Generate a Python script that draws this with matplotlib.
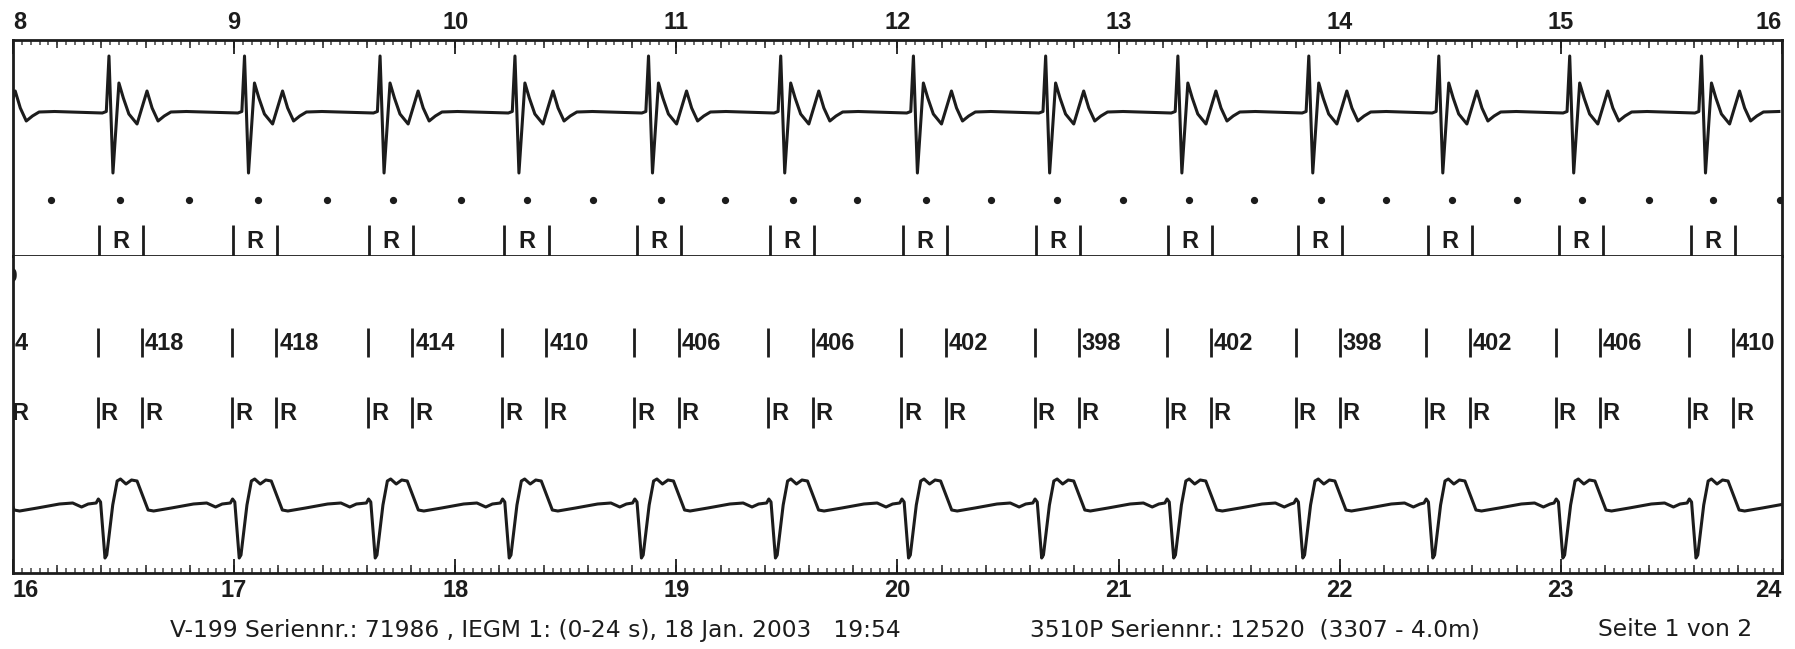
import numpy as np
import matplotlib.pyplot as plt
from matplotlib.ticker import MultipleLocator

# ---------------------------------------------------------------------------
# Recording data (seconds / display units)
# ---------------------------------------------------------------------------

# strip 1: 8-16 s, atrial-style IEGM with marker channel
top_beats = [7.838, 8.434, 9.047, 9.660, 10.270, 10.874, 11.472, 12.072,
             12.670, 13.268, 13.860, 14.448, 15.040, 15.636]
top_sense = [8.389, 8.996, 9.611, 10.222, 10.823, 11.423, 12.023, 12.625,
             13.223, 13.812, 14.398, 14.991, 15.588]
top_dots = [8.174, 8.485, 8.796, 9.107, 9.418, 9.718, 10.024, 10.324,
            10.624, 10.930, 11.220, 11.526, 11.815, 12.127, 12.422, 12.722,
            13.018, 13.318, 13.614, 13.914, 14.209, 14.506, 14.800, 15.097,
            15.398, 15.690, 15.992]

# strip 2: 16-24 s, surface lead with interval annotation
bottom_beats = [15.810, 16.416, 17.023, 17.638, 18.244, 18.842, 19.448,
                20.050, 20.652, 21.249, 21.833, 22.421, 23.009, 23.611]
bottom_sense = [16.384, 16.991, 17.606, 18.212, 18.810, 19.416, 20.018,
                20.620, 21.217, 21.801, 22.389, 22.977, 23.579]
bottom_intervals = [418, 418, 414, 410, 406, 406, 402, 398, 402, 398, 402,
                    406, 410]
carry_sense = 15.780      # last sense of the previous strip
carry_label = "4"
carry_event = "0"

# single-beat shapes: offset from fiducial point (s) and amplitude
top_shape_dt = [-0.030, -0.012, 0.000, 0.018, 0.045, 0.065, 0.090, 0.127,
                0.172, 0.195, 0.222, 0.250, 0.280, 0.350]
top_shape_amp = [-1.0, 0.5, 56.0, -61.0, 29.0, 14.0, -2.0, -12.0, 21.0, 4.0,
                 -9.0, -4.0, 0.0, 0.5]

bottom_shape_dt = [-0.040, -0.030, -0.020, 0.000, 0.008, 0.035, 0.055, 0.070,
                   0.095, 0.120, 0.145, 0.195, 0.220, 0.300, 0.400, 0.460,
                   0.500, 0.530]
bottom_shape_amp = [2.0, 6.0, 3.0, -53.0, -50.0, 0.0, 24.0, 26.0, 21.0, 25.0,
                    24.0, -5.0, -6.0, -3.0, 1.0, 2.0, -2.0, 1.0]

BLANK = 0.2               # marker window width (s)

FOOTER_LEFT = "V-199 Seriennr.: 71986 , IEGM 1: (0-24 s), 18 Jan. 2003   19:54"
FOOTER_MID = "3510P Seriennr.: 12520  (3307 - 4.0m)"
FOOTER_RIGHT = "Seite 1 von 2"

INK = "#1c1c1c"
W, H = 1795, 649

plt.rcParams["font.family"] = ["Liberation Sans", "DejaVu Sans"]


def beat_trace(beats, dt, amp):
    t = np.concatenate([b + np.asarray(dt) for b in beats])
    v = np.tile(amp, len(beats))
    return t, v


def px_axes(fig, x0, y0, x1, y1):
    return fig.add_axes([x0 / W, 1 - y1 / H, (x1 - x0) / W, (y1 - y0) / H])


def time_axis(ax, side, t0, t1):
    ticks = list(range(t0, t1 + 1))
    ax.set_xticks(ticks)
    ax.set_xticklabels([str(t) for t in ticks], fontsize=17, fontweight="bold",
                       color=INK)
    labels = ax.get_xticklabels()
    labels[0].set_ha("left")
    labels[-1].set_ha("right")
    ax.xaxis.set_minor_locator(MultipleLocator(0.04))
    ax.tick_params(axis="x", which="major", direction="in", length=10,
                   width=1.3, color=INK, pad=4)
    ax.tick_params(axis="x", which="minor", direction="in", length=3.5,
                   width=1.1, color="#444444")
    sec = ax.secondary_xaxis(side)
    sec.xaxis.set_major_locator(MultipleLocator(0.2))
    sec.tick_params(direction="in", length=6, width=1.2, color="#333333",
                    labeltop=False, labelbottom=False)
    for s in sec.spines.values():
        s.set_visible(False)
    ax.set_yticks([])


fig = plt.figure(figsize=(W / 100, H / 100), dpi=100, facecolor="white")

# ---------------------------------------------------------------------------
# Strip 1
# ---------------------------------------------------------------------------
ax1 = px_axes(fig, 13, 40, 1782, 256)
ax1.set_xlim(8, 16)
ax1.set_ylim(-144, 72)
ax1.xaxis.tick_top()
time_axis(ax1, "top", 8, 16)

t, v = beat_trace(top_beats, top_shape_dt, top_shape_amp)
ax1.plot(t, v, color=INK, lw=2.2, solid_joinstyle="round")

ax1.plot(top_dots, [-88] * len(top_dots), "o", color=INK, ms=4.2)

ends = [s + BLANK for s in top_sense]
ax1.vlines(top_sense + ends, -113, -144, color=INK, lw=2.0)
for s in top_sense:
    ax1.text(s + BLANK / 2, -129, "R", ha="center", va="center",
             fontsize=17, fontweight="bold", color=INK, clip_on=True)

for side in ["top", "left", "right", "bottom"]:
    ax1.spines[side].set_linewidth(2.0)
    ax1.spines[side].set_color(INK)

# ---------------------------------------------------------------------------
# Strip 2
# ---------------------------------------------------------------------------
ax2 = px_axes(fig, 13, 256, 1782, 573)
ax2.set_xlim(16, 24)
ax2.set_ylim(-68, 249)
time_axis(ax2, "bottom", 16, 24)
ax2.spines["top"].set_visible(False)
for side in ["left", "right", "bottom"]:
    ax2.spines[side].set_linewidth(2.0)
    ax2.spines[side].set_color(INK)

t, v = beat_trace(bottom_beats, bottom_shape_dt, bottom_shape_amp)
ax2.plot(t, v, color=INK, lw=2.2, solid_joinstyle="round")

# carried-over event text, mostly cut by the left border
ax2.annotate(carry_event, (16, 228), xytext=(2.5, 0),
             textcoords="offset points", ha="right", va="center",
             fontsize=15, fontweight="bold", color=INK, clip_on=True)

# interval row
ends = [s + BLANK for s in bottom_sense]
ax2.vlines(bottom_sense + ends, 148, 177, color=INK, lw=2.0)
for e, val in zip(ends, bottom_intervals):
    ax2.annotate(str(val), (e, 162), xytext=(2, 0), textcoords="offset points",
                 ha="left", va="center", fontsize=17, fontweight="bold",
                 color=INK, annotation_clip=False, clip_on=True)
ax2.annotate(carry_label, (16, 162), xytext=(1, 0), textcoords="offset points",
             ha="left", va="center", fontsize=17, fontweight="bold",
             color=INK, clip_on=True)

# sense marker row
marks = [carry_sense + BLANK] + bottom_sense + ends
ax2.vlines(marks, 77, 108, color=INK, lw=2.0)
for m in marks:
    ax2.annotate("R", (m, 92), xytext=(2, 0), textcoords="offset points",
                 ha="left", va="center", fontsize=17, fontweight="bold",
                 color=INK, annotation_clip=False, clip_on=True)

# ---------------------------------------------------------------------------
# Footer
# ---------------------------------------------------------------------------
footer = dict(va="center", fontsize=16.8, color=INK, family="DejaVu Sans")
fig.text(170 / W, 1 - 630 / H, FOOTER_LEFT, ha="left", **footer)
fig.text(1030 / W, 1 - 630 / H, FOOTER_MID, ha="left", **footer)
fig.text(1752 / W, 1 - 630 / H, FOOTER_RIGHT, ha="right", **footer)

fig.savefig("out.png", dpi=100, facecolor="white")
